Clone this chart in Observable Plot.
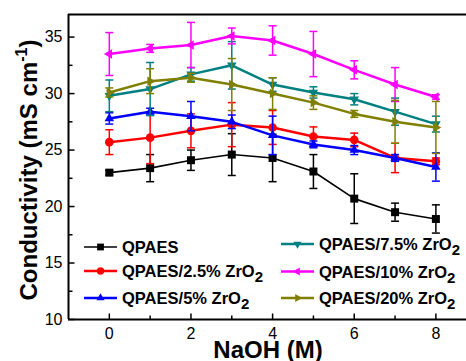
<!DOCTYPE html>
<html><head><meta charset="utf-8">
<script src="https://cdn.jsdelivr.net/npm/d3@7"></script>
<script src="https://cdn.jsdelivr.net/npm/@observablehq/plot@0.6"></script>
<style>
body{margin:0;background:#fff;}
#chart{position:relative;width:466px;height:361px;overflow:hidden;background:#fff}
</style>
</head><body><div id="chart"></div>
<script>
// ---- data ----
const naoh = [0, 1, 2, 3, 4, 5, 6, 7, 8];
const seriesNames = ["QPAES", "QPAES/2.5% ZrO2", "QPAES/5% ZrO2", "QPAES/7.5% ZrO2", "QPAES/10% ZrO2", "QPAES/20% ZrO2"];
const qpaes     = [23.0, 23.4, 24.1, 24.6, 24.3, 23.1, 20.7, 19.5, 18.9];
const qpaesErr  = [0.2, 1.2, 0.9, 1.85, 2.1, 1.5, 2.2, 0.8, 1.25];
const zr25      = [25.7, 26.1, 26.7, 27.25, 27.0, 26.2, 25.9, 24.3, 24.0];
const zr25Err   = [1.1, 2.3, 1.5, 1.95, 1.5, 0.85, 0.6, 1.3, 0.3];
const zr5       = [27.8, 28.4, 28.0, 27.5, 26.3, 25.5, 25.0, 24.3, 23.5];
const zr5Err    = [0.5, 0.3, 1.3, 0.6, 1.7, 0.3, 0.4, 0.3, 1.25];
const zr75      = [29.8, 30.4, 31.7, 32.5, 30.8, 30.1, 29.5, 28.4, 27.3];
const zr75Err   = [1.4, 2.35, 0.6, 2.1, 0.6, 0.5, 0.5, 1.2, 0.7];
const zr10      = [33.5, 34.0, 34.3, 35.1, 34.7, 33.5, 32.1, 30.8, 29.7];
const zr10Err   = [1.9, 0.35, 2.0, 0.7, 1.3, 2.0, 0.8, 1.5, 0.2];
const zr20      = [30.1, 31.1, 31.4, 30.8, 30.0, 29.2, 28.2, 27.5, 27.0];
const zr20Err   = [0.4, 1.1, 0.4, 2.3, 1.4, 0.6, 0.3, 1.9, 2.3];
const xTicks = [0, 2, 4, 6, 8];
const xMinor = [1, 3, 5, 7];
const yTicks = [10, 15, 20, 25, 30, 35];
const yMinor = [12.5, 17.5, 22.5, 27.5, 32.5];

// ---- styles ----
const FONT = "'Liberation Sans', Arial, Helvetica, sans-serif";
function triangle(angle, R) {
  return {draw(ctx) {
    for (let k = 0; k < 3; k++) {
      const a = (angle + k * 120) * Math.PI / 180;
      const px = R * Math.sin(a), py = -R * Math.cos(a);
      if (k === 0) ctx.moveTo(px, py); else ctx.lineTo(px, py);
    }
    ctx.closePath();
  }};
}
const squareSym = {draw(ctx){ const h = 4; ctx.moveTo(-h,-h); ctx.lineTo(h,-h); ctx.lineTo(h,h); ctx.lineTo(-h,h); ctx.closePath(); }};
const circleSym = {draw(ctx){ const r = 4.3; ctx.moveTo(r,0); ctx.arc(0,0,r,0,2*Math.PI); ctx.closePath(); }};
const capSym = {draw(ctx){ ctx.moveTo(-4,0); ctx.lineTo(4,0); }};
const tickRight = L => ({draw(ctx){ ctx.moveTo(0,0); ctx.lineTo(L,0); }});
const tickUp = L => ({draw(ctx){ ctx.moveTo(0,0); ctx.lineTo(0,-L); }});

const styles = [
  {color: "#000000", lw: 1.6, sym: squareSym},
  {color: "#ff0000", lw: 2.5, sym: circleSym},
  {color: "#0000ff", lw: 2.5, sym: triangle(0, 5.5)},
  {color: "#008080", lw: 2.5, sym: triangle(180, 5.5)},
  {color: "#ff00ff", lw: 2.5, sym: triangle(-90, 5.5)},
  {color: "#808000", lw: 2.5, sym: triangle(90, 5.5)}
];
const values = [qpaes, zr25, zr5, zr75, zr10, zr20];
const errors = [qpaesErr, zr25Err, zr5Err, zr75Err, zr10Err, zr20Err];

const marks = [];
values.forEach((vals, i) => {
  const st = styles[i];
  const rows = naoh.map((x, j) => ({x, y: vals[j], e: errors[i][j]}));
  marks.push(Plot.ruleX(rows, {x: "x", y1: d => d.y - d.e, y2: d => d.y + d.e, stroke: st.color, strokeWidth: 1.5}));
  marks.push(Plot.dot(rows, {x: "x", y: d => d.y + d.e, symbol: capSym, stroke: st.color, fill: "none", strokeWidth: 1.5}));
  marks.push(Plot.dot(rows, {x: "x", y: d => d.y - d.e, symbol: capSym, stroke: st.color, fill: "none", strokeWidth: 1.5}));
  marks.push(Plot.line(rows, {x: "x", y: "y", stroke: st.color, strokeWidth: st.lw}));
  marks.push(Plot.dot(rows, {x: "x", y: "y", symbol: st.sym, fill: st.color, stroke: "none"}));
});

const plot = Plot.plot({
  width: 466, height: 361,
  marginLeft: 68, marginRight: 0, marginTop: 14, marginBottom: 42,
  style: {fontFamily: FONT, background: "#fff", color: "#000"},
  x: {domain: [-1, 8.75]},
  y: {domain: [10, 37]},
  marks: [
    Plot.axisY(yTicks, {tickSize: 0, tickPadding: 6, fontSize: 16, label: null}),
    Plot.axisX(xTicks, {tickSize: 0, tickPadding: 8, fontSize: 16, label: null}),
    Plot.dot(yTicks, {y: d => d, frameAnchor: "left", symbol: tickRight(6), stroke: "#000", strokeWidth: 1.5}),
    Plot.dot(yMinor, {y: d => d, frameAnchor: "left", symbol: tickRight(4), stroke: "#000", strokeWidth: 1.5}),
    Plot.dot(xTicks, {x: d => d, frameAnchor: "bottom", symbol: tickUp(6), stroke: "#000", strokeWidth: 1.5}),
    Plot.dot(xMinor, {x: d => d, frameAnchor: "bottom", symbol: tickUp(4), stroke: "#000", strokeWidth: 1.5}),
    ...marks,
    Plot.ruleY([10], {stroke: "#000", strokeWidth: 2}),
    Plot.ruleY([37], {stroke: "#000", strokeWidth: 2}),
    Plot.ruleX([-1], {stroke: "#000", strokeWidth: 2})
  ]
});
document.getElementById("chart").appendChild(plot);

// ---- axis titles and legend ----
const svg = d3.select(plot);
svg.append("text")
  .attr("x", 268).attr("y", 358).attr("text-anchor", "middle")
  .attr("font-family", FONT).attr("font-weight", "bold").attr("font-size", 24).attr("fill", "#000")
  .text("NaOH (M)");
const yt = svg.append("text")
  .attr("transform", "translate(37,170) rotate(-90)").attr("text-anchor", "middle")
  .attr("font-family", FONT).attr("font-weight", "bold").attr("font-size", 24).attr("fill", "#000");
yt.append("tspan").text("Conductivity (mS cm");
yt.append("tspan").attr("dy", -10).attr("font-size", 16).text("-1");
yt.append("tspan").attr("dy", 10).text(")");

const legendPos = [
  {x0: 84, y: 247}, {x0: 84, y: 271}, {x0: 84, y: 298},
  {x0: 281, y: 244}, {x0: 281, y: 271.5}, {x0: 281, y: 298}
];
const lg = svg.append("g").attr("text-anchor", "start");
seriesNames.forEach((name, i) => {
  const st = styles[i], p = legendPos[i];
  lg.append("line").attr("x1", p.x0).attr("x2", p.x0 + 33).attr("y1", p.y).attr("y2", p.y)
    .attr("stroke", st.color).attr("stroke-width", st.lw);
  lg.append("path").attr("d", d3.symbol().type(st.sym)())
    .attr("transform", `translate(${p.x0 + 16.5},${p.y}) scale(0.85)`).attr("fill", st.color);
  const t = lg.append("text").attr("x", p.x0 + 38).attr("y", p.y + 6).attr("text-anchor", "start")
    .attr("font-family", FONT).attr("font-weight", "bold").attr("font-size", 16.5).attr("fill", "#000");
  if (name.endsWith("ZrO2")) {
    t.append("tspan").text(name.slice(0, -1));
    t.append("tspan").attr("dy", 5).attr("font-size", 15).text("2");
  } else {
    t.text(name);
  }
});
</script>
</body></html>
